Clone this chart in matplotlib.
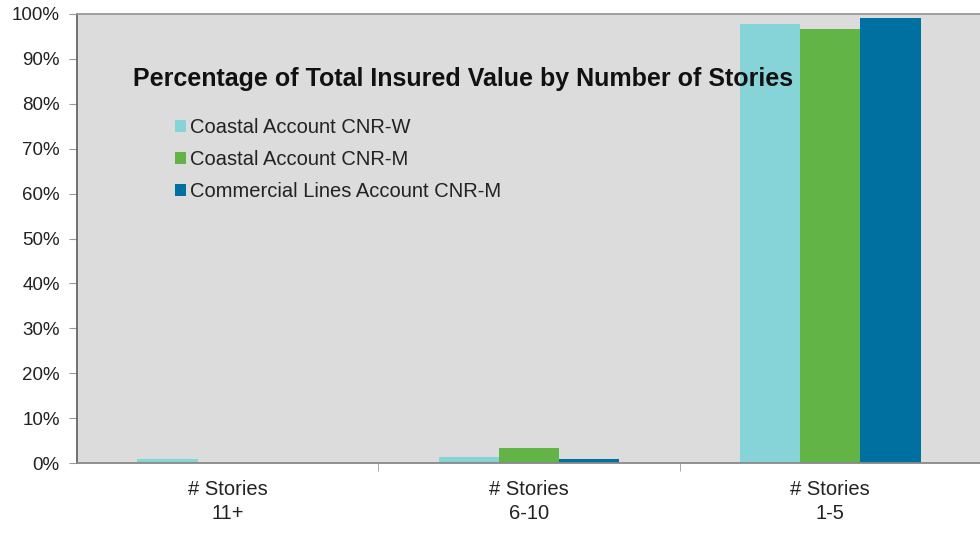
import matplotlib.pyplot as plt
import numpy as np

plt.rcParams['font.family'] = ['Liberation Sans', 'DejaVu Sans']

categories = ['# Stories\n11+', '# Stories\n6-10', '# Stories\n1-5']
series_names = ['Coastal Account CNR-W', 'Coastal Account CNR-M',
                'Commercial Lines Account CNR-M']
coastal_w = [0.9, 1.3, 97.8]
coastal_m = [0.1, 3.3, 96.6]
commercial_m = [0.1, 0.8, 99.1]
colors = ['#86D3D8', '#62B446', '#0070A0']

fig = plt.figure(figsize=(9.8, 5.34), dpi=100)
ax = fig.add_axes([77 / 980, 1 - 463 / 534, 904 / 980, 449 / 534])
ax.set_facecolor('#DCDCDC')

x = np.arange(len(categories))
width = 0.2
for i, (vals, name) in enumerate(zip([coastal_w, coastal_m, commercial_m], series_names)):
    ax.bar(x + (i - 1) * width, vals, width, color=colors[i], label=name, zorder=2)

ax.set_xlim(-0.5, 2.5)
ax.set_ylim(0, 100)
ax.set_yticks(np.arange(0, 101, 10))
ax.set_yticklabels([f'{v}%' for v in range(0, 101, 10)], fontsize=13.5, color='#222222')
ax.set_xticks(x)
ax.set_xticklabels(categories, fontsize=14.5, color='#222222', linespacing=1.35)
ax.set_xticks([0.5, 1.5], minor=True)
ax.tick_params(axis='x', which='major', length=0, pad=12)
ax.tick_params(axis='x', which='minor', length=6, color='#999999', direction='out')
ax.tick_params(axis='y', length=6, color='#999999', pad=6.5)

ax.spines['right'].set_visible(False)
ax.spines['left'].set_color('#666666')
ax.spines['top'].set_color('#999999')
ax.spines['bottom'].set_color('#888888')
for side in ['left', 'top', 'bottom']:
    ax.spines[side].set_linewidth(1.3)

ax.text((133 - 77) / 904, (463 - 79) / 449, 'Percentage of Total Insured Value by Number of Stories',
        transform=ax.transAxes, fontsize=18, fontweight='bold', color='#111111',
        va='center', ha='left')

ax.legend(loc='upper left', bbox_to_anchor=((175 - 77) / 904, (463 - 118) / 449), frameon=False,
          fontsize=14.5, handlelength=0.55, handleheight=0.55, handletextpad=0.2,
          labelspacing=0.65, labelcolor='#222222', borderaxespad=0, borderpad=0)

fig.savefig('out.png', dpi=100, facecolor='white')
